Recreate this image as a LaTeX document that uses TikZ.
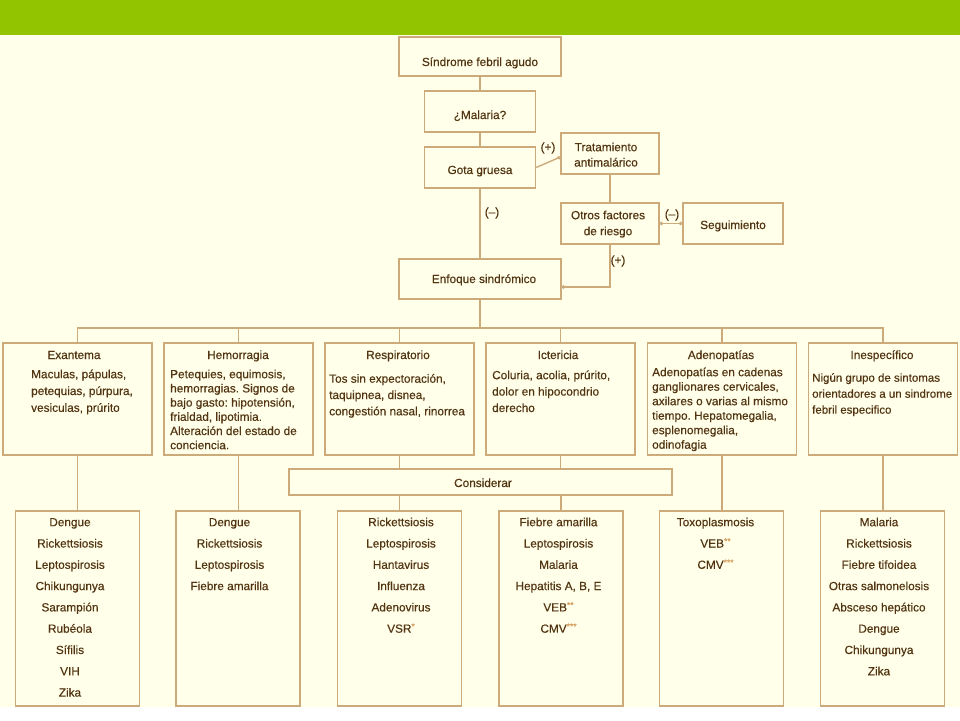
\documentclass[tikz,border=0pt]{standalone}
\usepackage{fontspec}
\setmainfont[FakeBold=0.35]{Liberation Sans}
\usetikzlibrary{arrows.meta,calc}
\definecolor{barc}{RGB}{146,196,0}
\definecolor{cream}{RGB}{255,255,234}
\definecolor{lnc}{RGB}{204,170,122}
\definecolor{txtc}{RGB}{82,52,16}
\definecolor{astc}{RGB}{215,160,95}
\newcommand{\sa}[1]{\raisebox{3.5pt}{\fontsize{8.5}{8.5}\selectfont\color{astc}#1}}
\begin{document}
\frenchspacing
\begin{tikzpicture}[x=1pt,y=-1pt,
  box/.style={draw=lnc,line width=1.4pt,rectangle,inner sep=0pt},
  lbl/.style={text=txtc,font=\fontsize{11.8}{14}\selectfont,inner sep=0pt},
  body/.style={lbl,anchor=north west,align=left},
  list/.style={lbl,anchor=north,align=center,font=\fontsize{11.8}{21.3}\selectfont},
  conn/.style={draw=lnc,line width=1.4pt},
  dotend/.style={-{Circle[length=3.4pt]}},
  dotboth/.style={{Circle[length=3.4pt]}-{Circle[length=3.4pt]}},
  midbox/.style={box,minimum width=149pt,minimum height=112pt},
  lowbox/.style={box,minimum width=124pt,minimum height=195pt}]
\fill[white] (0,0) rectangle (960,720);
\fill[cream] (0,35) rectangle (960,707);
\fill[barc] (0,0) rectangle (960,35);
\useasboundingbox (0,0) rectangle (960,720);

% top chain
\node[box,minimum width=162pt,minimum height=39pt] (sfa) at (480,56.5) {};
\node[lbl,anchor=base] (sfat) at (480,66) {Síndrome febril agudo};
\node[box,minimum width=111pt,minimum height=41pt] (mal) at (480,111.5) {};
\node[lbl,anchor=base] (malt) at (480,119) {¿Malaria?};
\node[box,minimum width=111pt,minimum height=41pt] (gota) at (480,167.5) {};
\node[lbl,anchor=base] (gotat) at (480,174) {Gota gruesa};
\node[box,minimum width=98pt,minimum height=41pt] (trat) at (610,153.5) {};
\node[lbl,anchor=north,align=center,font=\fontsize{11.8}{15.3}\selectfont] (tratt) at (606,141) {\rule{0pt}{10pt}Tratamiento\\antimalárico};
\node[box,minimum width=98pt,minimum height=41pt] (otros) at (610,223.5) {};
\node[lbl,anchor=north,align=center,font=\fontsize{11.8}{16}\selectfont] (otrost) at (608,209) {\rule{0pt}{10pt}Otros factores\\de riesgo};
\node[box,minimum width=100pt,minimum height=41pt] (seg) at (733,223.5) {};
\node[lbl,anchor=base] (segt) at (733,229) {Seguimiento};
\node[box,minimum width=162pt,minimum height=40pt] (enf) at (480,279) {};
\node[lbl,anchor=base] (enft) at (484,283) {Enfoque sindrómico};

\draw[conn] (sfa.south) -- (mal.north);
\draw[conn] (mal.south) -- (gota.north);
\draw[conn] (gota.south) -- (enf.north);
\draw[conn,dotend] (gota.east) -- ([yshift=-3.5pt]trat.west);
\draw[conn] (trat.south) -- (otros.north);
\draw[conn,dotboth] (otros.east) -- (seg.west);
\draw[conn,dotend] (otros.south) |- ([yshift=-8pt]enf.east);
\node[lbl] (lp1) at (548,148) {(+)};
\node[lbl] (lm1) at (492,213) {(–)};
\node[lbl] (lm2) at (672,215) {(–)};
\node[lbl] (lp2) at (618,261) {(+)};

% middle row
\node[midbox] (exa) at (77.5,399) {};
\node[midbox] (hem) at (238.5,399) {};
\node[midbox] (res) at (399.5,399) {};
\node[midbox] (ict) at (560.5,399) {};
\node[midbox] (ade) at (722,399) {};
\node[midbox] (ine) at (883,399) {};
\coordinate (bus) at (480,328);
\draw[conn] (enf.south) -- (bus);
\draw[conn] (exa.north) -- (exa.north |- bus) -- (ine.north |- bus) -- (ine.north);
\foreach \b in {hem,res,ict,ade} \draw[conn] (\b.north) -- (\b.north |- bus);

\node[lbl,anchor=base] (exat) at (74,359) {Exantema};
\node[lbl,anchor=base] (hemt) at (238,359) {Hemorragia};
\node[lbl,anchor=base] (rest) at (398,359) {Respiratorio};
\node[lbl,anchor=base] (ictt) at (558,359) {Ictericia};
\node[lbl,anchor=base] (adet) at (721,359) {Adenopatías};
\node[lbl,anchor=base] (inet) at (882,359) {Inespecífico};

\node[body,font=\fontsize{11.8}{16.8}\selectfont] (exab) at (31,368) {\rule{0pt}{10pt}Maculas, pápulas,\\petequias, púrpura,\\vesiculas, prúrito};
\node[body,font=\fontsize{11.8}{14.2}\selectfont] (hemb) at (170,368) {\rule{0pt}{10pt}Petequies, equimosis,\\hemorragias. Signos de\\bajo gasto: hipotensión,\\frialdad, lipotimia.\\Alteración del estado de\\conciencia.};
\node[body,font=\fontsize{11.8}{16.3}\selectfont] (resb) at (329,372.5) {\rule{0pt}{10pt}Tos sin expectoración,\\taquipnea, disnea,\\congestión nasal, rinorrea};
\node[body,font=\fontsize{11.8}{16.4}\selectfont] (ictb) at (492,369) {\rule{0pt}{10pt}Coluria, acolia, prúrito,\\dolor en hipocondrio\\derecho};
\node[body,font=\fontsize{11.8}{14.5}\selectfont] (adeb) at (652,366) {\rule{0pt}{10pt}Adenopatías en cadenas\\ganglionares cervicales,\\axilares o varias al mismo\\tiempo. Hepatomegalia,\\esplenomegalia,\\odinofagia};
\node[body,font=\fontsize{11.5}{16}\selectfont] (ineb) at (812,371.5) {\rule{0pt}{10pt}Nigún grupo de sintomas\\orientadores a un sindrome\\febril especifico};

% considerar
\node[box,minimum width=383pt,minimum height=26pt] (cons) at (480.5,482) {};
\node[lbl,anchor=base] (const) at (483,487) {Considerar};

% bottom row
\node[lowbox] (b1) at (77.5,608.5) {};
\node[lowbox] (b2) at (238,608.5) {};
\node[lowbox] (b3) at (399.5,608.5) {};
\node[lowbox] (b4) at (561,608.5) {};
\node[lowbox] (b5) at (721.5,608.5) {};
\node[lowbox] (b6) at (882.5,608.5) {};

\draw[conn] (exa.south) -- (b1.north);
\draw[conn] (hem.south) -- (hem.south |- b2.north);
\draw[conn] (res.south) -- (res.south |- cons.north);
\draw[conn] (ict.south) -- (ict.south |- cons.north);
\draw[conn] (b3.north |- cons.south) -- (b3.north);
\draw[conn] (b4.north |- cons.south) -- (b4.north);
\draw[conn] (ade.south) -- (ade.south |- b5.north);
\draw[conn] (ine.south) -- (ine.south |- b6.north);

\node[list] (l1) at (70,516) {\rule{0pt}{10pt}Dengue\\Rickettsiosis\\Leptospirosis\\Chikungunya\\Sarampión\\Rubéola\\Sífilis\\VIH\\Zika};
\node[list] (l2) at (229.5,516) {\rule{0pt}{10pt}Dengue\\Rickettsiosis\\Leptospirosis\\Fiebre amarilla};
\node[list] (l3) at (401,516) {\rule{0pt}{10pt}Rickettsiosis\\Leptospirosis\\Hantavirus\\Influenza\\Adenovirus\\VSR\sa{*}};
\node[list] (l4) at (558.5,516) {\rule{0pt}{10pt}Fiebre amarilla\\Leptospirosis\\Malaria\\Hepatitis A, B, E\\VEB\sa{**}\\CMV\sa{***}};
\node[list] (l5) at (715.5,516) {\rule{0pt}{10pt}Toxoplasmosis\\VEB\sa{**}\\CMV\sa{***}};
\node[list] (l6) at (879,516) {\rule{0pt}{10pt}Malaria\\Rickettsiosis\\Fiebre tifoidea\\Otras salmonelosis\\Absceso hepático\\Dengue\\Chikungunya\\Zika};
\end{tikzpicture}
\end{document}
